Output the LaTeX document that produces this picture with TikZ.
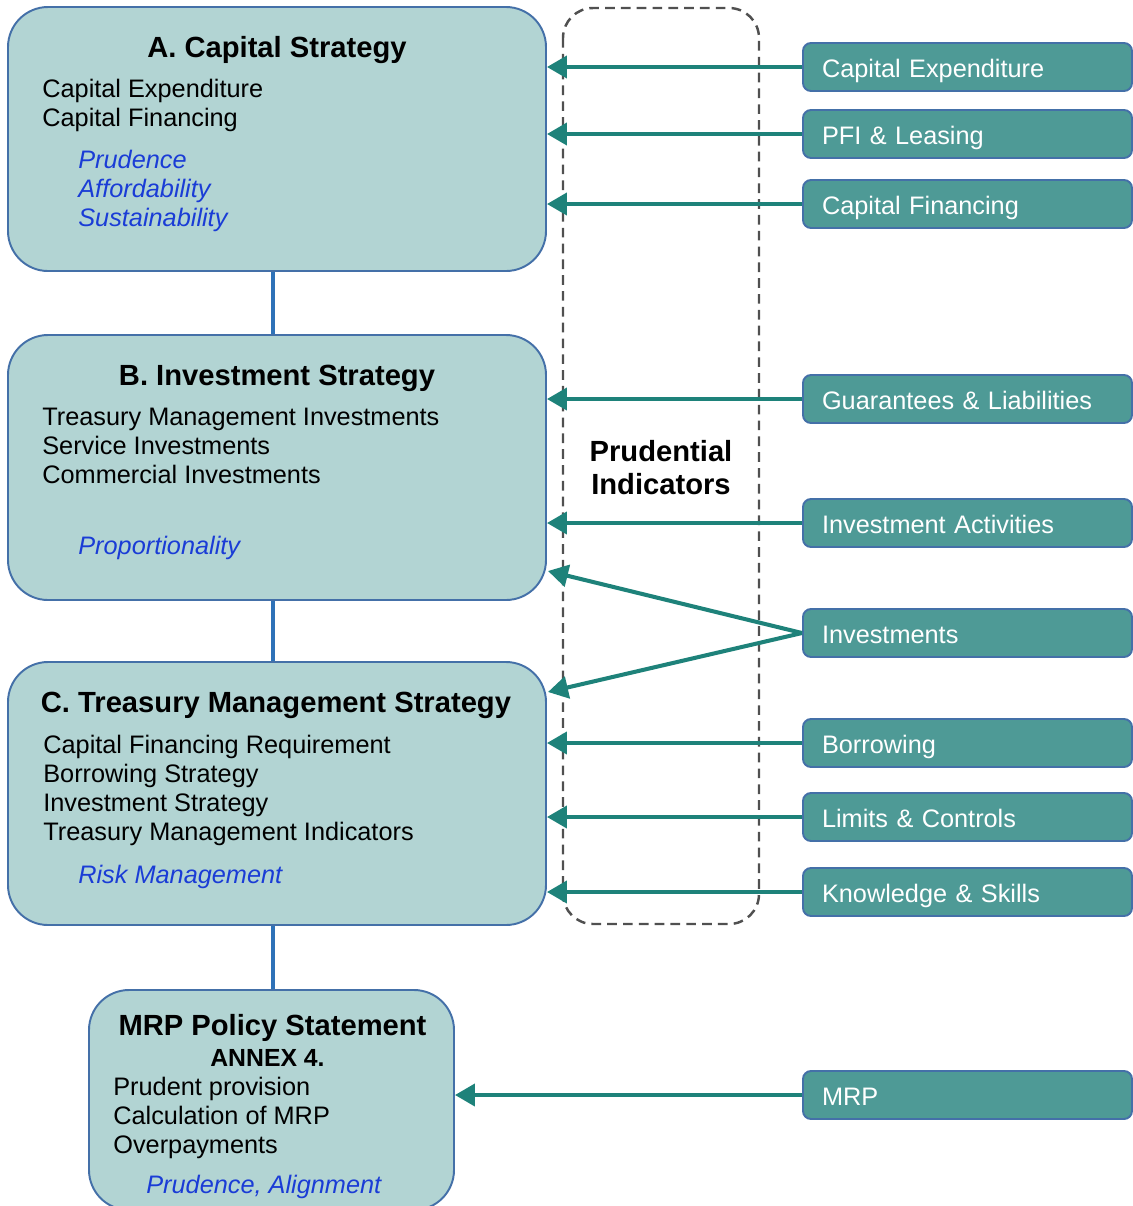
\documentclass[tikz,border=0pt]{standalone}
\usepackage{fontspec}
\setmainfont{Liberation Sans}
\usepackage{tikz}
\usetikzlibrary{arrows.meta}

\begin{document}
\begin{tikzpicture}[
  strat/.style={draw=boxline, line width=1.1pt, fill=boxfill, rounded corners=0.8cm, inner sep=0pt},
  ind/.style={draw=boxline, line width=1.1pt, fill=indfill, rounded corners=0.16cm, minimum width=6.58cm, minimum height=0.96cm, text width=5.82cm, inner xsep=0.38cm, text height=12pt, text depth=0.6pt, align=left, text=white, font=\fontsize{14.4}{16.4}\selectfont},
  head/.style={anchor=base, inner sep=0pt, font=\fontsize{16.6}{18.7}\selectfont\bfseries},
  body/.style={anchor=base west, inner sep=0pt, align=left, font=\fontsize{14.4}{16.44}\selectfont},
  aim/.style={body, text=aimblue, font=\fontsize{14.4}{16.44}\selectfont\itshape},
  feed/.style={draw=arrowteal, line width=2.3pt, -{Triangle[length=0.4cm,width=0.44cm]}},
  link/.style={draw=linkblue, line width=2.8pt}
]
\definecolor{boxfill}{RGB}{178,212,211}
\definecolor{boxline}{RGB}{68,112,168}
\definecolor{indfill}{RGB}{78,154,150}
\definecolor{arrowteal}{RGB}{30,130,122}
\definecolor{aimblue}{RGB}{26,60,214}
\definecolor{linkblue}{RGB}{46,114,184}
\definecolor{dashgrey}{RGB}{80,80,80}
\useasboundingbox (0,0) rectangle (22.66,-24.12);
% strategy boxes
\node[strat, minimum width=10.76cm, minimum height=5.28cm] (capital) at (5.54,-2.78) {};
\node[strat, minimum width=10.76cm, minimum height=5.30cm] (invest) at (5.54,-9.35) {};
\node[strat, minimum width=10.76cm, minimum height=5.26cm] (treasury) at (5.54,-15.87) {};
\node[strat, minimum width=7.3cm, minimum height=4.4cm] (mrp) at (5.43,-22.0) {};
\draw[link] ([xshift=-0.08cm]capital.south) -- ([xshift=-0.08cm]invest.north);
\draw[link] ([xshift=-0.08cm]invest.south) -- ([xshift=-0.08cm]treasury.north);
\draw[link] ([xshift=-0.08cm]treasury.south) -- ([xshift=-0.08cm]treasury.south |- mrp.north);
% texts of the strategy boxes (base = last line)
\node[head] (capitalhead) at (5.54,-1.14) {A. Capital Strategy};
\node[body] (capitalbody) at (0.84,-2.52) {Capital Expenditure\\Capital Financing};
\node[aim] (capitalaim) at (1.56,-4.52) {Prudence\\Affordability\\Sustainability};
\node[head] (investhead) at (5.54,-7.70) {B. Investment Strategy};
\node[body] (investbody) at (0.84,-9.66) {Treasury Management Investments\\Service Investments\\Commercial Investments};
\node[aim] (investaim) at (1.56,-11.08) {Proportionality};
\node[head] (treasuryhead) at (5.52,-14.24) {C. Treasury Management Strategy};
\node[body] (treasurybody) at (0.86,-16.80) {Capital Financing Requirement\\Borrowing Strategy\\Investment Strategy\\Treasury Management Indicators};
\node[aim] (treasuryaim) at (1.56,-17.66) {Risk Management};
\node[head] (mrphead) at (5.45,-20.70) {MRP Policy Statement};
\node[head, font=\fontsize{14.1}{16}\selectfont\bfseries] (mrpannex) at (5.35,-21.32) {ANNEX 4.};
\node[body] (mrpbody) at (2.26,-23.06) {Prudent provision\\Calculation of MRP\\Overpayments};
\node[aim] (mrpaim) at (2.92,-23.86) {Prudence, Alignment};
% prudential indicators
\draw[dashgrey, line width=1.4pt, dash pattern=on 5.5pt off 3.5pt, rounded corners=0.6cm] (11.26,-0.16) rectangle (15.18,-18.48);
\node[head, align=center] (prudential) at (13.22,-9.88) {Prudential\\Indicators};
\node[ind] (capex) at (19.35,-1.34) {Capital Expenditure};
\node[ind] (pfi) at (19.35,-2.68) {PFI \& Leasing};
\node[ind] (capfin) at (19.35,-4.08) {Capital Financing};
\node[ind] (guarantees) at (19.35,-7.98) {Guarantees \& Liabilities};
\node[ind] (activities) at (19.35,-10.46) {Investment Activities};
\node[ind] (investments) at (19.35,-12.66) {Investments};
\node[ind] (borrowing) at (19.35,-14.86) {Borrowing};
\node[ind] (limits) at (19.35,-16.34) {Limits \& Controls};
\node[ind] (skills) at (19.35,-17.84) {Knowledge \& Skills};
\node[ind] (mrpind) at (19.35,-21.90) {MRP};
\coordinate (invtipB) at (10.96,-11.42);
\coordinate (invtipC) at (10.96,-13.84);
% arrows
\draw[feed] (capex.west) -- (capex.west -| capital.east);
\draw[feed] (pfi.west) -- (pfi.west -| capital.east);
\draw[feed] (capfin.west) -- (capfin.west -| capital.east);
\draw[feed] (guarantees.west) -- (guarantees.west -| invest.east);
\draw[feed] (activities.west) -- (activities.west -| invest.east);
\draw[feed] (investments.west) -- (invtipB);
\draw[feed] (investments.west) -- (invtipC);
\draw[feed] (borrowing.west) -- (borrowing.west -| treasury.east);
\draw[feed] (limits.west) -- (limits.west -| treasury.east);
\draw[feed] (skills.west) -- (skills.west -| treasury.east);
\draw[feed] (mrpind.west) -- (mrpind.west -| mrp.east);
\end{tikzpicture}
\end{document}
